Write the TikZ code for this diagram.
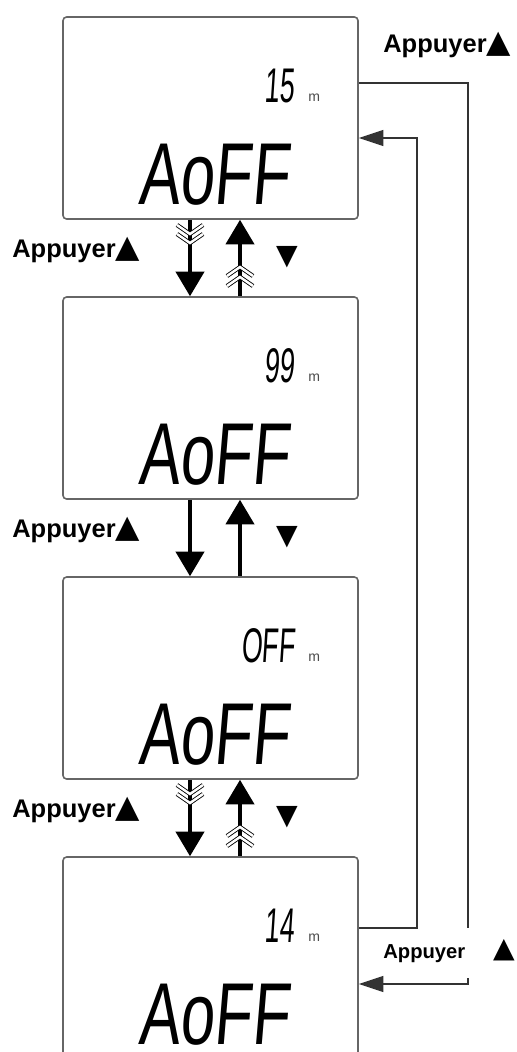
\documentclass[tikz,border=0pt]{standalone}
\usepackage{fontspec}
\setmainfont{Liberation Sans}
\newfontfamily\symfont{DejaVu Sans}
\newfontfamily\lcdfont[FakeSlant=0.12]{Liberation Sans}
\usetikzlibrary{arrows.meta}
\usetikzlibrary{positioning}

\newcommand{\lcdbig}[1]{\scalebox{0.7}[1]{\fontsize{50}{50}\selectfont\lcdfont #1}}
\newcommand{\lcdsmall}[1]{\scalebox{0.55}[1]{\fontsize{27.7}{28}\selectfont\lcdfont #1}}
\newcommand{\symup}[1][18]{{\symfont\fontsize{#1}{#1}\selectfont ▲}}
\newcommand{\symdown}[1][16]{{\symfont\fontsize{#1}{#1}\selectfont ▼}}

\begin{document}
\begin{tikzpicture}[x=0.02cm,y=-0.02cm,
  lcdbox/.style={draw=black!60,line width=0.9pt,rounded corners=2pt,minimum width=5.9cm,minimum height=4.04cm,inner sep=0pt},
  bigarrow/.style={line width=2.2pt,-{Triangle[length=14pt,width=16pt]}},
  feed/.style={draw=black!80,line width=1pt},
  feedarrow/.style={feed,-{Triangle[length=14pt,width=9pt]}},
  chevron/.style={draw=black,line width=0.5pt,double=white,double distance=1.4pt},
  presslbl/.style={font=\bfseries\fontsize{14.5}{16}\selectfont,inner sep=0pt}]
\useasboundingbox (0,0) rectangle (517,1052);
\clip (0,0) rectangle (517,1052);

\coordinate (dn) at (190,0);
\coordinate (up) at (240,0);

% the four displays
\foreach \i/\val in {1/15,2/99,3/OFF,4/14} {
  \node[lcdbox] (b\i) at (210.5,{280*(\i-1)+118}) {};
  \node[anchor=base east,inner sep=0pt] (v\i) at (295,{280*(\i-1)+102}) {\lcdsmall{\val}};
  \node[anchor=base west,inner sep=0pt,text=black!70] (u\i) at (308,{280*(\i-1)+101}) {\fontsize{8}{8}\selectfont m};
  \node[anchor=base west,inner sep=0pt] (a\i) at (138,{280*(\i-1)+204}) {\lcdbig{AoFF}};
}

% up / down between displays
\foreach \i/\j/\y in {1/2/258,2/3/538,3/4/818} {
  \draw[bigarrow] (b\i.south -| dn) -- (b\j.north -| dn);
  \draw[bigarrow] (b\j.north -| up) -- (b\i.south -| up);
  \node[presslbl,anchor=base west] (p\i) at (12,\y-1) {Appuyer\symup};
  \node[inner sep=0pt] (q\i) at (287,\y-1) {\symdown};
}

% fast marks
\foreach \t in {219,779} {
  \foreach \d in {6,15} {
    \draw[chevron] (177,\t+\d) -- (190,\t+\d+9) -- (203,\t+\d);
  }
  \foreach \d in {11,21} {
    \draw[chevron] (227,\t+78-\d) -- (240,\t+78-\d-9) -- (253,\t+78-\d);
  }
}

% loop on the right
\coordinate (outA) at (468,83);
\coordinate (outB) at (468,928);
\coordinate (outC) at (468,978);
\coordinate (outD) at (468,984);
\coordinate (inA) at (417,138);
\coordinate (inB) at (417,928);
\draw[feed] (b1.east |- outA) -- (outA) -- (outB);
\draw[feedarrow] (outC) -- (outD) -- (b4.east |- outD);
\draw[feedarrow] (b4.east |- inB) -- (inB) -- (inA) -- (b1.east |- inA);

\node[presslbl,anchor=base west] (ptop) at (383,52) {Appuyer\symup};
\node[anchor=base west,inner sep=0pt,font=\bfseries\fontsize{11.5}{13}\selectfont] (pbot) at (383,958) {Appuyer};
\node[inner sep=0pt] (pbotsym) at (504,950) {\symup[16]};

\end{tikzpicture}
\end{document}
